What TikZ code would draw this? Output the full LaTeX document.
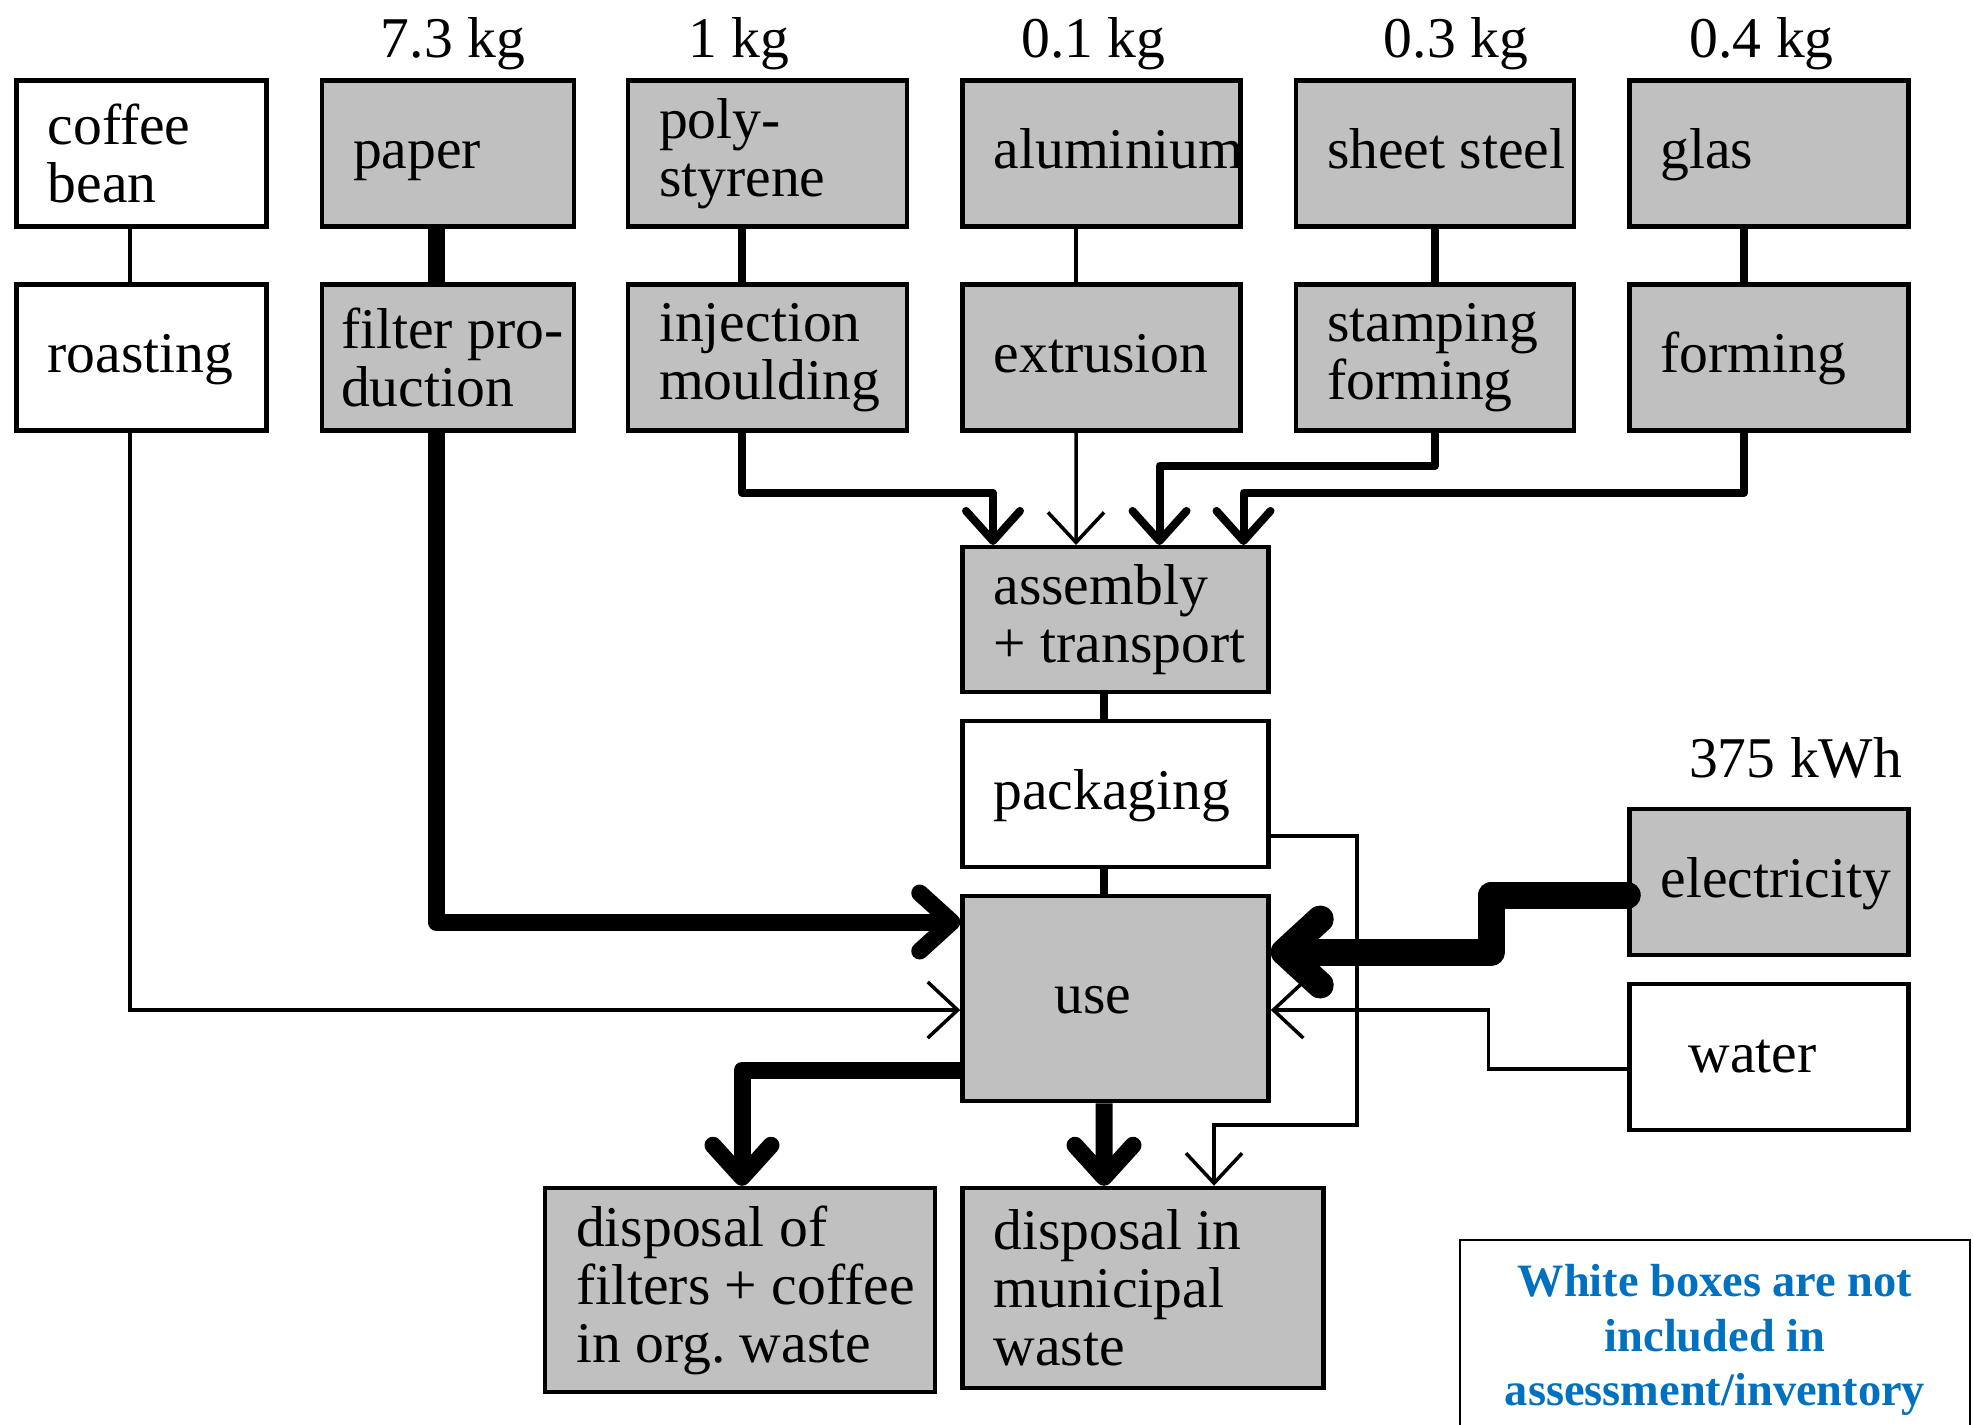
\documentclass[tikz,border=0pt]{standalone}
\usepackage{fontspec}
\setmainfont{Liberation Serif}
\usetikzlibrary{arrows.meta}
\definecolor{boxgrey}{RGB}{192,192,192}
\definecolor{noteblue}{RGB}{0,112,192}

\tikzset{
  flowbox/.style={draw,line width=0.45mm,minimum height=14.6mm,inner xsep=3.1mm,inner ysep=0pt,align=flush left},
  greybox/.style={flowbox,fill=boxgrey},
  whitebox/.style={flowbox,fill=white},
  oneline/.style={text height=4.2mm,text depth=1.2mm},
  amount/.style={anchor=base},
  thinline/.style={line width=0.35mm,>={Straight Barb[length=3mm,width=5.6mm]}},
  midline/.style={line width=0.8mm,line join=round,>={Straight Barb[round,length=3mm,width=5.4mm]}},
  heavyline/.style={line width=1.7mm,line join=round,>={Straight Barb[round,length=3.2mm,width=5.8mm]}},
  powerline/.style={line width=2.7mm,line join=round,line cap=round,>={Straight Barb[round,length=3.6mm,width=6.6mm]}}
}

\begin{document}
\begin{tikzpicture}[x=0.1mm,y=-0.1mm,font=\fontsize{16.4pt}{16.5pt}\selectfont]
\useasboundingbox (0,0) rectangle (1973,1424);
\clip (0,0) rectangle (1973,1424);

% materials
\node[whitebox,text width=18.8mm] (bean) at (141.6,153.5) {coffee\\bean};
\node[greybox,oneline,text width=19mm] (paper) at (448,153.5) {paper};
\node[greybox,text width=21.7mm] (poly) at (767.5,153.5) {poly-\\styrene};
\node[greybox,oneline,text width=21.6mm] (alu) at (1101.7,153.5) {aluminium};
\node[greybox,oneline,text width=21.6mm] (steel) at (1435,153.5) {\mbox{sheet steel}};
\node[greybox,oneline,text width=21.7mm] (glas) at (1769,153.5) {glas};

\node[amount] (kgpaper) at (453,57) {7.3 kg};
\node[amount] (kgpoly) at (738.6,57) {1 kg};
\node[amount] (kgalu) at (1093.5,57) {0.1 kg};
\node[amount] (kgsteel) at (1456,57) {0.3 kg};
\node[amount] (kgglas) at (1761.6,57) {0.4 kg};

% processes
\node[whitebox,oneline,text width=18.8mm] (roast) at (141.6,357.4) {roasting};
\node[greybox,text width=21.4mm,inner xsep=1.9mm] (filt) at (448,357.4) {\mbox{filter pro-}\\duction};
\node[greybox,text width=21.7mm] (inj) at (767.5,357.4) {injection\\moulding};
\node[greybox,oneline,text width=21.6mm] (ext) at (1101.7,357.4) {extrusion};
\node[greybox,text width=21.6mm] (stamp) at (1435,357.4) {stamping\\forming};
\node[greybox,oneline,text width=21.7mm] (form) at (1769,357.4) {forming};

\node[greybox,text width=24.4mm,minimum height=14.5mm] (asm) at (1115.5,619.7) {assembly\\\mbox{+ transport}};
\node[whitebox,oneline,text width=24.4mm] (pack) at (1115.5,794) {packaging};
\node[greybox,oneline,text width=12.2mm,inner xsep=9.2mm,minimum height=20.5mm] (use) at (1115.5,998.5) {use};

\node[greybox,oneline,text width=21.7mm] (elec) at (1769,882) {electricity};
\node[amount] (kwh) at (1795.6,777.6) {375 kWh};
\node[whitebox,oneline,text width=16.1mm,inner xsep=5.9mm] (water) at (1769,1057) {water};

% end of life
\node[greybox,text width=32.8mm,minimum height=20.4mm] (org) at (740,1290) {disposal of\\\mbox{filters + coffee}\\in org.\ waste};
\node[greybox,text width=29.9mm,minimum height=20mm] (muni) at (1143,1288) {disposal in\\municipal\\waste};

\node[draw,line width=0.25mm,minimum width=51mm,minimum height=20mm,align=center,text=noteblue,
  font=\fontsize{13.2pt}{15.6pt}\selectfont\bfseries] (note) at (1715,1340) {White boxes are not\\included in\\assessment/inventory};

% flows
\draw[thinline] ([xshift=-1.16mm]bean.south) -- ([xshift=-1.16mm]roast.north);
\draw[thinline,->] ([xshift=-1.16mm]roast.south) |- ([yshift=-1.15mm]use.west);
\draw[heavyline] ([xshift=-1.2mm]paper.south) -- ([xshift=-1.2mm]filt.north);
\draw[heavyline,->] ([xshift=-1.2mm]filt.south) |- ([yshift=7.65mm]use.west);
\draw[midline] ([xshift=-2.55mm]poly.south) -- ([xshift=-2.55mm]inj.north);
\draw[midline,->] ([xshift=-2.55mm]inj.south) -- ++(0,60) -| ([xshift=-12.25mm]asm.north);
\draw[thinline] ([xshift=-2.57mm]alu.south) -- ([xshift=-2.57mm]ext.north);
\draw[thinline,->] ([xshift=-2.57mm]ext.south) -- ([xshift=-3.95mm]asm.north);
\draw[midline] (steel) -- (stamp);
\draw[midline,->] (stamp.south) -- ++(0,33) -| ([xshift=4.4mm]asm.north);
\draw[midline] ([xshift=-2.5mm]glas.south) -- ([xshift=-2.5mm]form.north);
\draw[midline,->] ([xshift=-2.5mm]form.south) -- ++(0,60) -| ([xshift=12.8mm]asm.north);
\draw[midline] ([xshift=-1.15mm]asm.south) -- ([xshift=-1.15mm]pack.north);
\draw[midline] ([xshift=-1.15mm]pack.south) -- ([xshift=-1.15mm]use.north);
\draw[thinline,->] ([yshift=-4.2mm]pack.east) -| ++(86,289) -| ([xshift=7.1mm]muni.north);
\draw[thinline,->] ([yshift=-1.2mm]water.west) -- ++(-139,0) |- ([yshift=-1.15mm]use.east);
\draw[powerline,->] ([yshift=-1.3mm]elec.west) -- ++(-136,0) |- ([yshift=4.65mm]use.east);
\draw[heavyline,->] ([yshift=-7.15mm]use.west) -| ([xshift=0.2mm]org.north);
\draw[heavyline,->] ([xshift=-1.15mm]use.south) -- ([xshift=-3.9mm]muni.north);
\end{tikzpicture}
\end{document}
